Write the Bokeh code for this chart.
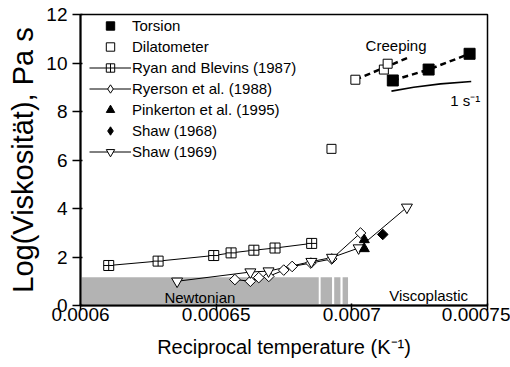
import numpy as np
from bokeh.plotting import figure
from bokeh.models import Range1d, FixedTicker, Legend, LegendItem, Label
from bokeh.embed import file_html
from bokeh.resources import INLINE

# ---------------- data ----------------
torsion_x = [0.0007151, 0.0007283, 0.0007434]
torsion_y = [9.28, 9.73, 10.38]

dil_x = [0.0006925, 0.0007013, 0.0007118, 0.0007132]
dil_y = [6.46, 9.31, 9.73, 9.97]

creep_dil_x = [0.0007013, 0.0007212]
creep_dil_y = [9.31, 10.24]

rate_x = [0.0007146, 0.0007228, 0.0007327, 0.0007440]
rate_y = [8.84, 9.00, 9.14, 9.24]

ryan_x = [0.0006104, 0.0006286, 0.0006491, 0.0006555, 0.0006639, 0.0006717, 0.0006852]
ryan_y = [1.65, 1.83, 2.06, 2.17, 2.28, 2.37, 2.56]

ryerson_x = [0.0006569, 0.0006626, 0.0006657, 0.0006694, 0.0006749, 0.0006780,
             0.0006849, 0.0006926, 0.0007032]
ryerson_y = [1.07, 1.00, 1.15, 1.20, 1.46, 1.61, 1.75, 1.92, 2.99]

pinkerton_x = [0.0007046, 0.0007046]
pinkerton_y = [2.71, 2.34]

shaw68_x = [0.0007114]
shaw68_y = [2.93]

shaw69_x = [0.0006356, 0.0006626, 0.0006693, 0.0006851, 0.0006927, 0.0007025, 0.0007203]
shaw69_y = [1.00, 1.38, 1.42, 1.81, 1.98, 2.37, 4.05]

newton_left = [0.0006, 0.0006885, 0.0006935, 0.0006966]
newton_right = [0.0006878, 0.0006927, 0.0006958, 0.0006986]
newton_top = 1.17

x_ticks = [0.0006, 0.00065, 0.0007, 0.00075]
x_tick_labels = ["0.0006", "0.00065", "0.0007", "0.00075"]
y_ticks = [0, 2, 4, 6, 8, 10, 12]

FONT = "Liberation Sans"

p = figure(width=510, height=367, output_backend="svg", toolbar_location=None,
           x_range=Range1d(0.0006, 0.00075), y_range=Range1d(0, 12),
           min_border_left=80, min_border_right=23, min_border_top=14, min_border_bottom=62)
p.grid.visible = False
p.outline_line_color = "black"
p.outline_line_width = 1.5
p.background_fill_color = "white"
p.border_fill_color = "white"

# Newtonian region
p.quad(left=newton_left, right=newton_right, bottom=0, top=newton_top,
       fill_color="#b3b3b3", line_color=None)

# lines
r_ryan_l = p.line(ryan_x, ryan_y, line_color="black", line_width=1)
r_ryer_l = p.line(ryerson_x, ryerson_y, line_color="black", line_width=1)
r_shaw69_l = p.line(shaw69_x, shaw69_y, line_color="black", line_width=1)
p.line(creep_dil_x, creep_dil_y, line_color="black", line_width=2.5, line_dash="6 4")
p.line(torsion_x, torsion_y, line_color="black", line_width=2.5, line_dash="6 4")
p.line(rate_x, rate_y, line_color="black", line_width=1.6)

# markers
r_ryan = p.scatter(ryan_x, ryan_y, marker="square_cross", size=10,
                   fill_color="white", line_color="black", line_width=1)
p.scatter(ryerson_x, ryerson_y, marker="square", angle=np.pi / 4, size=7.5,
          fill_color="white", line_color="black", line_width=1)
r_shaw69 = p.scatter(shaw69_x, shaw69_y, marker="inverted_triangle", size=11,
                     fill_color="white", line_color="black", line_width=1)
r_pink = p.scatter(pinkerton_x, pinkerton_y, marker="triangle", size=10,
                   fill_color="black", line_color="black")
p.scatter(shaw68_x, shaw68_y, marker="square", angle=np.pi / 4, size=7.5,
          fill_color="black", line_color="black")
r_dil = p.scatter(dil_x, dil_y, marker="square", size=9,
                  fill_color="white", line_color="black", line_width=1)
r_tor = p.scatter(torsion_x, torsion_y, marker="square", size=11,
                  fill_color="black", line_color="black")

# hidden duplicates used only as legend keys (legend keys ignore marker angle)
r_ryer_key = p.scatter(ryerson_x, ryerson_y, marker="diamond", size=10, visible=False,
                       fill_color="white", line_color="black", line_width=1)
r_shaw68_key = p.scatter(shaw68_x, shaw68_y, marker="diamond", size=10, visible=False,
                         fill_color="black", line_color="black")

legend = Legend(items=[
    LegendItem(label="Torsion", renderers=[r_tor]),
    LegendItem(label="Dilatometer", renderers=[r_dil]),
    LegendItem(label="Ryan and Blevins (1987)", renderers=[r_ryan_l, r_ryan]),
    LegendItem(label="Ryerson et al. (1988)", renderers=[r_ryer_l, r_ryer_key]),
    LegendItem(label="Pinkerton et al. (1995)", renderers=[r_pink]),
    LegendItem(label="Shaw (1968)", renderers=[r_shaw68_key]),
    LegendItem(label="Shaw (1969)", renderers=[r_shaw69_l, r_shaw69]),
], location=(9, 143))
legend.padding = 0
legend.margin = 0
legend.spacing = 0
legend.label_height = 21
legend.glyph_height = 21
legend.glyph_width = 42
legend.label_standoff = 1
legend.label_text_font = FONT
legend.label_text_font_size = "15px"
legend.label_text_color = "black"
legend.background_fill_alpha = 0
legend.border_line_alpha = 0
p.add_layout(legend)

# annotations
for txt, x, y in [("Creeping", 0.0007163, 10.72),
                  ("Newtonian", 0.000644, 0.34),
                  ("Viscoplastic", 0.0007283, 0.41)]:
    p.add_layout(Label(x=x, y=y, text=txt, text_font=FONT, text_font_size="15px",
                       text_align="center", text_baseline="middle", text_color="black"))
p.add_layout(Label(x=0.0007363, y=8.45, text="1 s⁻¹", text_font=FONT,
                   text_font_size="15px", text_align="left", text_baseline="middle",
                   text_color="black"))

# axes
p.xaxis.ticker = FixedTicker(ticks=x_ticks)
p.xaxis.major_label_overrides = dict(zip(x_ticks, x_tick_labels))
p.yaxis.ticker = FixedTicker(ticks=y_ticks)
for ax in (p.xaxis, p.yaxis):
    ax.axis_line_width = 2
    ax.axis_line_color = "black"
    ax.major_tick_line_width = 1.5
    ax.major_tick_line_color = "black"
    ax.minor_tick_line_color = None
    ax.major_label_text_font = FONT
    ax.major_label_text_font_size = "19px"
    ax.major_label_text_color = "black"
    ax.axis_label_text_font = FONT
    ax.axis_label_text_font_style = "normal"
    ax.axis_label_text_color = "black"
p.xaxis.major_tick_out = 5
p.xaxis.major_tick_in = 2
p.xaxis.major_label_standoff = -3
p.xaxis.axis_label = "Reciprocal temperature (K⁻¹)"
p.xaxis.axis_label_text_font_size = "20px"
p.xaxis.axis_label_standoff = 12
p.yaxis.major_tick_out = 8
p.yaxis.major_tick_in = 2
p.yaxis.major_label_standoff = 5
p.yaxis.axis_label = "Log(Viskosität), Pa s"
p.yaxis.axis_label_text_font_size = "29px"
p.yaxis.axis_label_standoff = 4

open("out.html", "w").write(file_html(p, INLINE))
